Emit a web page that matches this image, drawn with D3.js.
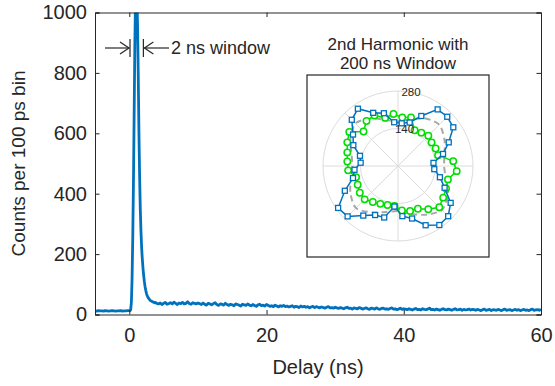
<!DOCTYPE html>
<html>
<head>
<meta charset="utf-8">
<script src="https://cdn.jsdelivr.net/npm/d3@7"></script>
<style>
  body { margin: 0; background: #fff; }
  svg { display: block; font-family: "Liberation Sans", Arial, sans-serif; }
</style>
</head>
<body>
<svg id="chart" width="555" height="386"></svg>
<script>
// ---- histogram counts (per 100 ps bin) ----
// baseline before the pulse, t = -5 .. -0.25 ns, every 0.25 ns
const baseCounts = [12,11,13,12,12,11,13,12,11,12,13,12,11,12,12,13,11,12,12,13];
// pulse, t = 0 .. 4 ns, every 0.1 ns
const peakCounts = [13,13,16,40,115,250,430,650,880,1040,1090,1060,960,800,610,460,350,275,220,182,
  152,128,108,92,80,70,63,58,54,51,48,46,45,43,42,41,40,39,40,38,37];
// tail, t = 4.25 .. 60 ns, every 0.25 ns
const tailCounts = [
  35,38,33,37,40,34,36,39,35,41,37,33,38,36,40,35,37,42,36,34,39,37,35,38,
  36,33,38,34,31,37,35,32,36,39,33,30,35,34,31,37,33,30,34,32,29,35,33,31,28,34,32,30,35,31,29,33,30,27,32,34,29,31,28,33,
  30,27,29,26,31,28,25,29,27,30,26,28,25,27,29,24,27,26,23,28,25,27,24,26,22,25,27,23,26,24,22,25,23,21,24,26,22,23,21,24,
  22,20,23,21,19,22,24,20,21,18,22,20,19,23,21,18,20,22,19,17,21,20,18,22,19,17,20,21,18,19,17,20,22,18,19,16,18,21,17,19,
  18,16,19,17,15,18,20,16,17,15,19,17,16,18,21,16,17,15,18,16,14,17,19,16,15,18,16,14,17,19,15,16,18,14,17,15,16,18,15,17,
  16,14,17,15,13,16,18,14,15,17,13,16,15,14,17,15,13,16,18,14,15,16,13,15,17,14,16,13,15,17,14,15,13,16,18,14,15,16,14,17
];
const xTicks = [0, 20, 40, 60];
const yTicks = [0, 200, 400, 600, 800, 1000];

// ---- inset: 2nd harmonic polar data ----
const polarAngles = [5,15,25,35,45,55,65,75,85,95,105,115,125,135,145,155,165,175,
  185,195,205,215,225,235,245,255,265,275,285,295,305,315,325,335,345,355];
const blueR = [133,174,209,252,260,258,206,168,160,164,204,219,261,244,205,184,147,140,
  163,174,219,273,266,226,202,199,152,188,203,244,269,265,240,192,162,136];
const greenR = [207,155,155,153,160,152,147,188,182,195,186,208,205,182,222,209,196,190,
  187,162,166,174,176,164,156,151,150,167,174,176,197,218,206,198,193,220];
const fitAngles = [0,15,30,45,60,75,90,105,120,135,150,165,180,195,210,225,240,255,270,285,300,315,330,345];
const fitR = [172,180,200,218,205,180,166,178,205,225,205,180,170,182,205,222,200,178,168,185,210,232,215,185];
const rTicks = [140, 280];

const svg = d3.select('#chart');
const axisColor = '#262626';
const blue = '#0072bd';

const margin = { left: 95, right: 14, top: 12.5, bottom: 71.5 };
const W = 555, H = 386;

const x = d3.scaleLinear().domain([-5, 60]).range([margin.left, W - margin.right]);
const y = d3.scaleLinear().domain([0, 1000]).range([H - margin.bottom, margin.top]);

// build series
const series = [];
baseCounts.forEach((c, i) => series.push({ t: -5 + 0.25 * i, c }));
peakCounts.forEach((c, i) => series.push({ t: 0.1 * i, c }));
tailCounts.forEach((c, i) => series.push({ t: 4.25 + 0.25 * i, c }));

svg.append('defs').append('clipPath').attr('id', 'plotClip')
  .append('rect')
  .attr('x', x(-5)).attr('y', y(1000))
  .attr('width', x(60) - x(-5)).attr('height', y(0) - y(1000));

// trace
svg.append('path')
  .datum(series)
  .attr('clip-path', 'url(#plotClip)')
  .attr('fill', 'none')
  .attr('stroke', blue)
  .attr('stroke-width', 2.8)
  .attr('stroke-linejoin', 'round')
  .attr('d', d3.line().x(d => x(d.t)).y(d => y(d.c)));

// axes (MATLAB style box with inward ticks)
const tickLen = 4.5;
const xAxisB = svg.append('g').attr('transform', `translate(0,${y(0)})`)
  .call(d3.axisBottom(x).tickValues(xTicks).tickSize(-tickLen).tickPadding(13));
const xAxisT = svg.append('g').attr('transform', `translate(0,${y(1000)})`)
  .call(d3.axisTop(x).tickValues(xTicks).tickSize(-tickLen).tickFormat(''));
const yAxisL = svg.append('g').attr('transform', `translate(${x(-5)},0)`)
  .call(d3.axisLeft(y).tickValues(yTicks).tickSize(-tickLen).tickPadding(8).tickFormat(d3.format('d')));
const yAxisR = svg.append('g').attr('transform', `translate(${x(60)},0)`)
  .call(d3.axisRight(y).tickValues(yTicks).tickSize(-tickLen).tickFormat(''));

[xAxisB, xAxisT, yAxisL, yAxisR].forEach(g => {
  g.selectAll('path').attr('stroke', axisColor).attr('stroke-width', 1);
  g.selectAll('line').attr('stroke', axisColor).attr('stroke-width', 1);
  g.selectAll('text').attr('fill', axisColor).style('font-size', '20px')
    .style('font-family', '"Liberation Sans", Arial, sans-serif');
});

// axis labels
svg.append('text')
  .attr('x', (x(-5) + x(60)) / 2).attr('y', 374)
  .attr('text-anchor', 'middle').attr('fill', axisColor)
  .style('font-size', '20px')
  .text('Delay (ns)');

svg.append('text')
  .attr('transform', `translate(25,${(y(0) + y(1000)) / 2}) rotate(-90)`)
  .attr('text-anchor', 'middle').attr('fill', axisColor)
  .style('font-size', '19px')
  .text('Counts per 100 ps bin');

// "2 ns window" annotation
const ann = svg.append('g').attr('stroke', axisColor).attr('stroke-width', 1.2).attr('fill', 'none');
const winL = x(0.1), winR = x(2.05), annY = 48;
ann.append('line').attr('x1', winL).attr('x2', winL).attr('y1', 39).attr('y2', 57);
ann.append('line').attr('x1', winR).attr('x2', winR).attr('y1', 39).attr('y2', 57);
ann.append('line').attr('x1', 105).attr('x2', winL - 1).attr('y1', annY).attr('y2', annY);
ann.append('path').attr('d', `M${winL - 10},${annY - 6}L${winL - 1},${annY}L${winL - 10},${annY + 6}`);
ann.append('line').attr('x1', winR + 1).attr('x2', 169).attr('y1', annY).attr('y2', annY);
ann.append('path').attr('d', `M${winR + 10},${annY - 6}L${winR + 1},${annY}L${winR + 10},${annY + 6}`);
svg.append('text')
  .attr('x', 171).attr('y', 54)
  .attr('fill', axisColor)
  .style('font-size', '18px')
  .text('2 ns window');

// ---- inset ----
const inset = { x0: 307, y0: 75, x1: 489, y1: 257 };
svg.append('rect')
  .attr('x', inset.x0).attr('y', inset.y0)
  .attr('width', inset.x1 - inset.x0).attr('height', inset.y1 - inset.y0)
  .attr('fill', '#fff').attr('stroke', axisColor).attr('stroke-width', 1.2);

svg.append('text')
  .attr('x', 398).attr('y', 50)
  .attr('text-anchor', 'middle').attr('fill', axisColor)
  .style('font-size', '17px')
  .text('2nd Harmonic with');
svg.append('text')
  .attr('x', 398).attr('y', 68.5)
  .attr('text-anchor', 'middle').attr('fill', axisColor)
  .style('font-size', '17px')
  .text('200 ns Window');

const cx = 398, cy = 166;
const r = d3.scaleLinear().domain([0, 280]).range([0, 75]);
const polar = svg.append('g').attr('transform', `translate(${cx},${cy})`);

// grid
const gridColor = '#dcdcdc';
rTicks.forEach(t => {
  polar.append('circle').attr('r', r(t)).attr('fill', 'none')
    .attr('stroke', gridColor).attr('stroke-width', 1);
});
d3.range(0, 360, 45).forEach(a => {
  const rad = a * Math.PI / 180;
  polar.append('line')
    .attr('x1', 0).attr('y1', 0)
    .attr('x2', r(280) * Math.cos(rad)).attr('y2', -r(280) * Math.sin(rad))
    .attr('stroke', gridColor).attr('stroke-width', 1);
});

const toD3Angle = deg => Math.PI / 2 - deg * Math.PI / 180;
const radial = d3.lineRadial()
  .angle(d => toD3Angle(d[0]))
  .radius(d => r(d[1]));

// fitted curve
polar.append('path')
  .datum(fitAngles.map((a, i) => [a, fitR[i]]))
  .attr('fill', 'none').attr('stroke', '#a8a8a8').attr('stroke-width', 2)
  .attr('stroke-dasharray', '6,4')
  .attr('d', radial.curve(d3.curveCardinalClosed.tension(0.2)));

radial.curve(d3.curveLinearClosed);

const green = '#00dd00';
const greenPts = polarAngles.map((a, i) => [a, greenR[i]]);
polar.append('path').datum(greenPts)
  .attr('fill', 'none').attr('stroke', green).attr('stroke-width', 1.5)
  .attr('d', radial);
polar.selectAll('circle.g').data(greenPts).join('circle')
  .attr('class', 'g')
  .attr('cx', d => r(d[1]) * Math.cos(d[0] * Math.PI / 180))
  .attr('cy', d => -r(d[1]) * Math.sin(d[0] * Math.PI / 180))
  .attr('r', 3.2)
  .attr('fill', '#fff').attr('stroke', green).attr('stroke-width', 1.5);

const bluePts = polarAngles.map((a, i) => [a, blueR[i]]);
polar.append('path').datum(bluePts)
  .attr('fill', 'none').attr('stroke', blue).attr('stroke-width', 1.5)
  .attr('d', radial);
polar.selectAll('rect.b').data(bluePts).join('rect')
  .attr('class', 'b')
  .attr('x', d => r(d[1]) * Math.cos(d[0] * Math.PI / 180) - 2.5)
  .attr('y', d => -r(d[1]) * Math.sin(d[0] * Math.PI / 180) - 2.5)
  .attr('width', 5).attr('height', 5)
  .attr('fill', '#fff').attr('stroke', blue).attr('stroke-width', 1.3);

// r tick labels at 80 degrees
rTicks.forEach(t => {
  const rad = 80 * Math.PI / 180;
  polar.append('text')
    .attr('x', r(t) * Math.cos(rad)).attr('y', -r(t) * Math.sin(rad) + 4)
    .attr('text-anchor', 'middle').attr('fill', axisColor)
    .style('font-size', '11.5px')
    .text(t);
});
</script>
</body>
</html>
